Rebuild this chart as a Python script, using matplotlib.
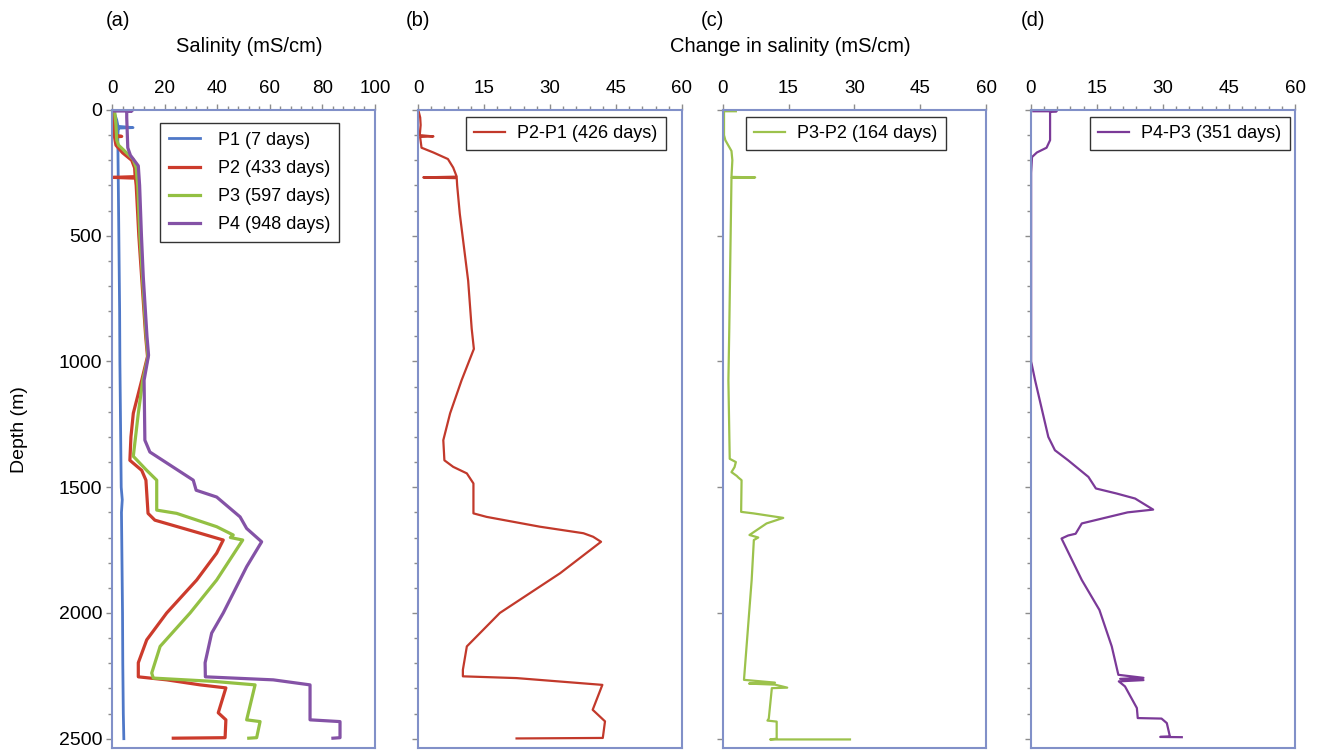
import matplotlib
matplotlib.use("Agg")
import matplotlib.pyplot as plt
from matplotlib.ticker import MultipleLocator, NullLocator

plt.rcParams['font.family'] = ['Liberation Sans', 'DejaVu Sans']

# ---------------- data ----------------
# Panel (a): salinity profiles (mS/cm) vs depth (m)
p1_depth = [0, 40, 65, 70, 72, 75, 100, 200, 400, 600, 800, 1000, 1200, 1400,
            1500, 1550, 1600, 1800, 2000, 2200, 2400, 2500]
p1_sal = [0.5, 1.8, 2.3, 8.0, 2.5, 2.4, 2.2, 2.3, 2.5, 2.7, 2.9, 3.0, 3.2, 3.4,
          3.5, 3.9, 3.6, 3.8, 4.0, 4.1, 4.3, 4.5]

p2_depth = [3, 100, 105, 107, 110, 140, 170, 200, 230, 265, 268, 271, 300, 500,
            700, 900, 980, 1075, 1206, 1300, 1393, 1433, 1472, 1604, 1631, 1683,
            1710, 1762, 1869, 2000, 2107, 2198, 2254, 2266, 2286, 2298, 2397,
            2425, 2496, 2498]
p2_sal = [0.5, 1.0, 3.7, 1.0, 1.0, 1.5, 4.0, 7.5, 8.6, 8.8, 0.5, 8.9, 9.2, 10.2,
          11.5, 12.8, 13.5, 11.3, 8.1, 7.2, 6.8, 11.3, 12.9, 13.7, 16.3, 33.5,
          42.3, 39.8, 32.2, 20.8, 13.2, 10.0, 10.0, 20.8, 33.5, 43.3, 40.4,
          43.3, 43.0, 23.3]

p3_depth = [3, 60, 120, 140, 160, 195, 230, 270, 300, 500, 700, 900, 980, 1075,
            1206, 1377, 1433, 1472, 1591, 1604, 1657, 1690, 1700, 1710, 1869,
            2000, 2133, 2239, 2259, 2272, 2286, 2425, 2432, 2496, 2498]
p3_sal = [1.0, 1.5, 1.8, 2.5, 4.5, 8.0, 9.2, 9.5, 9.8, 10.6, 11.8, 13.0, 13.7,
          11.7, 10.0, 8.1, 13.2, 17.0, 17.0, 24.6, 39.8, 46.1, 45.0, 49.7, 39.8,
          29.7, 18.3, 15.1, 15.7, 38.5, 54.4, 51.2, 56.3, 55.0, 52.0]

p4_depth = [4, 4, 6, 30, 150, 180, 222, 300, 500, 665, 900, 975, 1075, 1313,
            1360, 1472, 1512, 1539, 1618, 1664, 1717, 1816, 2000, 2080, 2198,
            2254, 2266, 2286, 2425, 2432, 2496, 2498]
p4_sal = [0.5, 7.6, 5.6, 5.6, 6.0, 7.0, 10.0, 10.5, 11.2, 11.9, 13.3, 13.9,
          12.2, 12.5, 14.4, 30.9, 32.0, 39.8, 48.7, 51.2, 56.9, 51.2, 42.3,
          37.9, 35.4, 35.5, 61.3, 75.3, 75.3, 86.7, 86.7, 84.0]

# Panel (b): P2-P1
d21_depth = [2, 30, 60, 100, 105, 107, 110, 150, 169, 195, 229, 265, 268, 271,
             300, 413, 679, 869, 950, 1075, 1206, 1313, 1393, 1419, 1445, 1485,
             1604, 1618, 1657, 1683, 1697, 1717, 1842, 2000, 2133, 2226, 2252,
             2259, 2286, 2385, 2431, 2497, 2499]
d21_val = [0.1, 0.5, 0.6, 0.4, 3.5, 0.5, 0.5, 0.8, 3.5, 6.8, 8.0, 8.8, 1.2, 8.8,
           8.9, 9.5, 11.4, 12.2, 12.7, 9.9, 7.3, 5.75, 6.0, 8.0, 11.1, 12.6,
           12.6, 15.6, 27.7, 37.6, 39.8, 41.6, 32.3, 18.6, 11.1, 10.2, 10.2,
           22.4, 41.9, 39.7, 42.5, 42.0, 22.4]

# Panel (c): P3-P2
d32_depth = [5, 5, 100, 120, 163, 200, 266, 268, 270, 869, 1075, 1387, 1400,
             1420, 1440, 1455, 1462, 1472, 1598, 1604, 1622, 1644, 1690, 1700,
             1710, 1869, 2266, 2277, 2281, 2285, 2297, 2299, 2420, 2428, 2432,
             2500, 2503, 2503]
d32_val = [3.0, 0.3, 0.3, 0.6, 2.0, 2.2, 2.0, 7.4, 2.0, 1.5, 1.3, 1.6, 3.0, 2.7,
           2.0, 3.2, 3.6, 4.3, 4.2, 7.0, 13.8, 10.0, 6.1, 8.1, 7.1, 6.6, 4.85,
           11.9, 6.0, 11.9, 14.7, 11.2, 10.5, 10.2, 12.3, 12.3, 10.8, 29.0]

# Panel (d): P4-P3
d43_depth = [5, 5, 6, 120, 150, 169, 187, 250, 1000, 1075, 1300, 1353, 1393,
             1459, 1505, 1525, 1545, 1589, 1600, 1644, 1685, 1692, 1704, 1869,
             1988, 2133, 2246, 2258, 2262, 2267, 2272, 2292, 2378, 2418, 2420,
             2438, 2491, 2493, 2494]
d43_val = [0.6, 5.9, 4.4, 4.4, 3.6, 1.4, 0.3, 0.1, 0.1, 1.0, 4.0, 5.5, 8.5,
           13.1, 14.8, 19.5, 23.7, 27.8, 22.0, 11.6, 10.2, 8.5, 7.0, 11.6, 15.6,
           18.4, 19.9, 25.6, 20.3, 25.6, 20.0, 21.4, 24.1, 24.3, 29.7, 30.9,
           31.6, 29.4, 34.3]

labels_a = ['P1 (7 days)', 'P2 (433 days)', 'P3 (597 days)', 'P4 (948 days)']
label_b = 'P2-P1 (426 days)'
label_c = 'P3-P2 (164 days)'
label_d = 'P4-P3 (351 days)'
depth_ticks = [0, 500, 1000, 1500, 2000, 2500]

# ---------------- styling ----------------
C_BLUE = '#4f78c8'
C_RED = '#cc3b2c'
C_GREEN = '#93c043'
C_PURPLE = '#8452a6'
C_RED2 = '#c2392b'
C_GREEN2 = '#9cc24c'
C_PURPLE2 = '#7b3a98'
SPINE = '#8190c8'
TICKC = '#8c8c8c'

W, H = 1324, 751
fig = plt.figure(figsize=(W / 100, H / 100), dpi=100)

top_px, bot_px = 110, 748
lefts = [112, 418, 722.7, 1030.7]
widths = [263, 264, 263.3, 264.3]
axes = []
for l, w in zip(lefts, widths):
    ax = fig.add_axes([l / W, 1 - bot_px / H, w / W, (bot_px - top_px) / H])
    axes.append(ax)

xmax = [100, 60, 60, 60]
xmajor = [20, 15, 15, 15]
xminor = [4, 3, None, 3]
yminor = [100, 100, None, 100]

for i, ax in enumerate(axes):
    ax.set_xlim(0, xmax[i])
    ax.set_ylim(2537, 0)
    ax.xaxis.tick_top()
    ax.xaxis.set_major_locator(MultipleLocator(xmajor[i]))
    if xminor[i]:
        ax.xaxis.set_minor_locator(MultipleLocator(xminor[i]))
    else:
        ax.xaxis.set_minor_locator(NullLocator())
    ax.set_yticks(depth_ticks)
    if yminor[i]:
        ax.yaxis.set_minor_locator(MultipleLocator(yminor[i]))
    if i > 0:
        ax.set_yticklabels([])
    for s in ax.spines.values():
        s.set_color(SPINE)
        s.set_linewidth(1.5)
    ax.tick_params(which='major', direction='out', length=4.5, width=1.0,
                   color=TICKC, labelsize=13.5, pad=5)
    ax.tick_params(which='minor', direction='out', length=3, width=1.0,
                   color=TICKC)
    ax.tick_params(axis='y', pad=2.5, labelsize=14)

# Panel (a)
ax = axes[0]
ax.plot(p1_sal, p1_depth, color=C_BLUE, lw=2.0, label=labels_a[0])
ax.plot(p2_sal, p2_depth, color=C_RED, lw=2.3, label=labels_a[1])
ax.plot(p3_sal, p3_depth, color=C_GREEN, lw=2.3, label=labels_a[2])
ax.plot(p4_sal, p4_depth, color=C_PURPLE, lw=2.3, label=labels_a[3])
leg = ax.legend(loc='upper left', bbox_to_anchor=(0.1825, 0.980), fontsize=13,
                frameon=True, fancybox=False, edgecolor='black',
                borderpad=0.5, labelspacing=0.62, handlelength=1.7,
                handletextpad=1.0, borderaxespad=0)
leg.get_frame().set_linewidth(1.0)

# Panels (b)-(d)
series = [(d21_val, d21_depth, C_RED2, label_b, 0.1807),
          (d32_val, d32_depth, C_GREEN2, label_c, 0.0874),
          (d43_val, d43_depth, C_PURPLE2, label_d, 0.224)]
for ax, (v, d, c, lab, x0) in zip(axes[1:], series):
    ax.plot(v, d, color=c, lw=1.6, label=lab)
    lg = ax.legend(loc='upper left', bbox_to_anchor=(x0, 0.989), fontsize=13,
                   frameon=True, fancybox=False, edgecolor='black',
                   borderpad=0.45, handlelength=1.7, handletextpad=0.7,
                   borderaxespad=0)
    lg.get_frame().set_linewidth(1.0)

# Texts
fig.text(20 / W, 1 - 430 / H, 'Depth (m)', rotation=90, ha='center',
         va='center', fontsize=14)
fig.text(249 / W, 1 - 47 / H, 'Salinity (mS/cm)', ha='center', va='center',
         fontsize=14.5)
fig.text(790 / W, 1 - 47 / H, 'Change in salinity (mS/cm)', ha='center',
         va='center', fontsize=14.5)
for x, t in zip([118, 418, 712, 1033], ['(a)', '(b)', '(c)', '(d)']):
    fig.text(x / W, 1 - 21 / H, t, ha='center', va='center', fontsize=14.5)

fig.savefig('out.png', dpi=100)
